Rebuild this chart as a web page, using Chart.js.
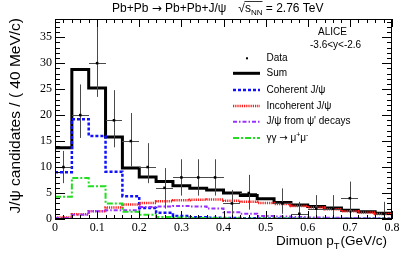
<!DOCTYPE html>
<html><head><meta charset="utf-8">
<script src="https://cdn.jsdelivr.net/npm/chart.js@4/dist/chart.umd.min.js"></script>
<style>html,body{margin:0;padding:0;background:#fff;overflow:hidden}#wrap{width:407px;height:254px}</style>
</head><body><div id="wrap"><canvas id="c" width="407" height="254"></canvas></div>
<script>
// ---- data ----
const binEdges = [0,0.04,0.08,0.12,0.16,0.20,0.24,0.28,0.32,0.36,0.40,0.44,0.48,0.52,0.56,0.60,0.64,0.68,0.72,0.76,0.80];
const sumVals   = [13.7,28.8,25.2,15.8,9.8,8.1,7.2,6.4,5.9,5.6,5.0,4.5,3.9,3.2,2.7,2.4,2.1,1.7,1.4,1.1];
const cohVals   = [9.0,19.2,16.0,9.1,4.4,2.1,1.2,0.6,0.35,0.25,0.2,0.15,0.12,0.1,0.08,0.06,0.05,0.04,0.03,0.03];
const incohVals = [0.3,0.9,1.5,2.2,2.8,3.1,3.4,3.6,3.7,3.75,3.5,3.3,3.1,2.9,2.5,2.2,1.9,1.5,1.25,0.95];
const psiVals   = [0.2,0.8,1.5,1.7,1.7,2.3,2.4,2.5,2.4,2.0,1.3,1.0,0.6,0.5,0.4,0.3,0.25,0.2,0.15,0.1];
const ggVals    = [4.3,7.9,6.3,3.0,1.4,0.8,0.4,0.3,0.2,0.2,0.15,0.12,0.1,0.1,0.08,0.07,0.06,0.05,0.05,0.04];
const dataX  = [0.02,0.06,0.10,0.14,0.18,0.22,0.26,0.30,0.34,0.38,0.42,0.46,0.54,0.58,0.62,0.66,0.70,0.78];
const dataY  = [10,20,30,19,15,10,6,8,8,8,3,5,3,1,2,2,4,1];
const errLo  = [3.1,4.4,6.5,5.2,4.9,3.1,4.0,3.5,3.5,3.5,2.6,3.2,2.0,0.9,1.8,1.8,3.0,0.9];
const errHi  = [3.1,5.9,7.1,5.8,5.4,4.6,3.8,3.5,3.5,3.5,2.6,3.5,2.9,2.3,2.6,2.6,3.2,2.3];
const dataXErr = 0.02;
const xTicks = [0,0.1,0.2,0.3,0.4,0.5,0.6,0.7,0.8];
const xTickLabels = ['0','0.1','0.2','0.3','0.4','0.5','0.6','0.7','0.8'];
const yTicks = [0,5,10,15,20,25,30,35];
const yTickLabels = ['0','5','10','15','20','25','30','35'];
const legendLabels = ['Data','Sum','Coherent J/\u03C8','Incoherent J/\u03C8',"J/\u03C8 from \u03C8' decays",'\u03B3\u03B3 \u2192 \u03BC+\u03BC-'];

const SANS = '"Liberation Sans", Arial, sans-serif';
const DEJAVU = '"DejaVu Sans", sans-serif';
const SERIF = '"Liberation Serif", "Times New Roman", serif';

function steps(vals){
  const pts = vals.map((v,i)=>({x:binEdges[i], y:v}));
  pts.push({x:binEdges[vals.length], y:vals[vals.length-1]});
  return pts;
}

const styles = [
  {color:'#000000', width:3, dash:[]},
  {color:'#1010ff', width:2.5, dash:[3,2]},
  {color:'#ff1a1a', width:2.5, dash:[1.2,1]},
  {color:'#9a30ff', width:2, dash:[4,2,1.5,2]},
  {color:'#22dd22', width:2, dash:[6,2,2,2]}
];
const histVals = [sumVals, cohVals, incohVals, psiVals, ggVals];
const histOrder = [5,4,3,2,1];

const datasets = [{
  type:'scatter', label:legendLabels[0],
  data: dataX.map((x,i)=>({x:x, y:dataY[i]})),
  pointStyle:'rect', pointRadius:1.8, pointBackgroundColor:'#000', pointBorderColor:'#000', pointBorderWidth:0,
  showLine:false, order:0
}];
histVals.forEach((vals,k)=>{
  datasets.push({
    type:'line', label:legendLabels[k+1], data:steps(vals), stepped:true,
    borderColor:styles[k].color, borderWidth:styles[k].width, borderDash:styles[k].dash,
    pointRadius:0, fill:false, order:histOrder[k], tension:0
  });
});

function drawSeg(ctx, text, x, y, font){ ctx.font = font; ctx.fillText(text, x, y); return ctx.measureText(text).width; }

const decor = {
  id:'decor',
  beforeDatasetDraw(chart, args){
    if (args.index !== 0) return;
    const ctx = chart.ctx, xs = chart.scales.x, ys = chart.scales.y;
    ctx.save();
    ctx.strokeStyle = '#4a4a4a'; ctx.lineWidth = 1;
    dataX.forEach((x,i)=>{
      const px = Math.round(xs.getPixelForValue(x))+0.5, py = Math.round(ys.getPixelForValue(dataY[i]))+0.5;
      ctx.beginPath();
      ctx.moveTo(Math.round(xs.getPixelForValue(x-dataXErr)), py);
      ctx.lineTo(Math.round(xs.getPixelForValue(x+dataXErr)), py);
      ctx.moveTo(px, ys.getPixelForValue(Math.max(0,dataY[i]-errLo[i])));
      ctx.lineTo(px, ys.getPixelForValue(dataY[i]+errHi[i]));
      ctx.stroke();
    });
    ctx.restore();
  },
  afterDraw(chart){
    const ctx = chart.ctx, a = chart.chartArea, xs = chart.scales.x, ys = chart.scales.y;
    ctx.save();
    // frame
    ctx.strokeStyle = '#000'; ctx.lineWidth = 1;
    ctx.strokeRect(Math.round(a.left)+0.5, Math.round(a.top)+0.5, Math.round(a.right-a.left)-1, Math.round(a.bottom-a.top)-1);
    // ticks
    ctx.beginPath();
    for (let i=0;i<=40;i++){
      const v = i*0.02; const major = (i%5===0);
      const px = Math.round(xs.getPixelForValue(v))+0.5; const L = major?8:4;
      ctx.moveTo(px, a.bottom); ctx.lineTo(px, a.bottom-L);
      ctx.moveTo(px, a.top); ctx.lineTo(px, a.top+L);
    }
    for (let v=0; v<=38; v++){
      const major = (v%5===0);
      const py = Math.round(ys.getPixelForValue(v))+0.5; const L = major?10:5;
      ctx.moveTo(a.left, py); ctx.lineTo(a.left+L, py);
      ctx.moveTo(a.right, py); ctx.lineTo(a.right-L, py);
    }
    ctx.stroke();

    ctx.fillStyle = '#000'; ctx.textBaseline = 'alphabetic'; ctx.textAlign = 'left';
    // title
    const f12 = '12px '+SANS, f8 = '8px '+SANS, fa12 = '12px '+DEJAVU;
    let x = 112, y = 12;
    x += drawSeg(ctx, 'Pb+Pb ', x, y, f12);
    x += drawSeg(ctx, '\u2192', x, y, fa12);
    x += drawSeg(ctx, ' Pb+Pb+J/\u03C8', x, y, f12) + 12;
    x += drawSeg(ctx, '\u221A', x, y, f12);
    const ovs = x;
    x += drawSeg(ctx, 's', x, y, f12);
    x += drawSeg(ctx, 'NN', x, y+3, f8);
    ctx.beginPath(); ctx.lineWidth = 0.8; ctx.moveTo(ovs-0.5, y-10.5); ctx.lineTo(x, y-10.5); ctx.stroke();
    x += drawSeg(ctx, ' = 2.76 TeV', x, y, f12);

    // y title
    ctx.save();
    ctx.translate(15.5, 18); ctx.rotate(-Math.PI/2);
    ctx.textAlign = 'right'; ctx.textBaseline = 'middle'; ctx.font = '15.5px '+SANS;
    ctx.fillText('J/\u03C8 candidates / ( 40 MeV/c)', 0, 0);
    ctx.restore();

    // x title
    const f14 = '13.5px '+SANS, f9 = '9.5px '+SANS;
    ctx.font = f14; const w1 = ctx.measureText('Dimuon p').width, w3 = ctx.measureText('(GeV/c)').width;
    ctx.font = f9; const w2 = ctx.measureText('T').width;
    x = 387 - (w1+w2+1+w3); y = 245;
    x += drawSeg(ctx, 'Dimuon p', x, y, f14);
    x += drawSeg(ctx, 'T', x, y+4, f9) + 1;
    drawSeg(ctx, '(GeV/c)', x, y, f14);

    // ALICE label
    const f10 = '10px '+SANS;
    ctx.font = f10;
    ctx.fillText('ALICE', 318, 35);
    ctx.fillText('-3.6<y<-2.6', 310, 48);

    // legend
    const rowsY = [58.3, 73.3, 90, 106, 121.7, 138];
    const lx0 = 233, lx1 = 260, tx = 266.5;
    rowsY.forEach((ry,i)=>{
      if (i===0){
        ctx.fillStyle = '#000'; ctx.fillRect(246, ry-1, 2, 2);
      } else {
        const s = styles[i-1];
        ctx.save(); ctx.strokeStyle = s.color; ctx.lineWidth = s.width; ctx.setLineDash(s.dash);
        ctx.beginPath(); ctx.moveTo(lx0, ry); ctx.lineTo(lx1, ry); ctx.stroke(); ctx.restore();
      }
      ctx.fillStyle = '#000'; ctx.textBaseline = 'middle';
      if (i===5){
        let xx = tx; const f7 = '7px '+SANS;
        xx += drawSeg(ctx, '\u03B3\u03B3 ', xx, ry, f10);
        xx += drawSeg(ctx, '\u2192', xx, ry, '10px '+DEJAVU);
        xx += drawSeg(ctx, ' \u03BC', xx, ry, f10);
        xx += drawSeg(ctx, '+', xx, ry-3, f7);
        xx += drawSeg(ctx, '\u03BC', xx, ry, f10);
        drawSeg(ctx, '-', xx, ry-3, f7);
      } else {
        drawSeg(ctx, legendLabels[i], tx, ry, f10);
      }
    });
    ctx.restore();
  }
};

new Chart(document.getElementById('c'), {
  data:{ datasets },
  options:{
    responsive:false, animation:false, devicePixelRatio:1,
    layout:{ padding:{ top:19, right:15, left:0, bottom:0 } },
    plugins:{ legend:{display:false}, tooltip:{enabled:false}, title:{display:false} },
    scales:{
      x:{ type:'linear', min:0, max:0.8,
        afterBuildTicks: s => { s.ticks = xTicks.map(v=>({value:v})); },
        afterFit: s => { s.height = 35; },
        ticks:{ callback:(v,i)=>xTickLabels[i], font:{family:SERIF, size:12}, color:'#000', padding:2, maxRotation:0, autoSkip:false },
        grid:{ display:false, drawTicks:false }, border:{ display:false } },
      y:{ type:'linear', min:0, max:38.5,
        afterBuildTicks: s => { s.ticks = yTicks.map(v=>({value:v})); },
        afterFit: s => { s.width = 55; },
        ticks:{ callback:(v,i)=>yTickLabels[i], font:{family:SERIF, size:12}, color:'#000', padding:3, autoSkip:false },
        grid:{ display:false, drawTicks:false }, border:{ display:false } }
    }
  },
  plugins:[decor]
});
</script>
</body></html>
